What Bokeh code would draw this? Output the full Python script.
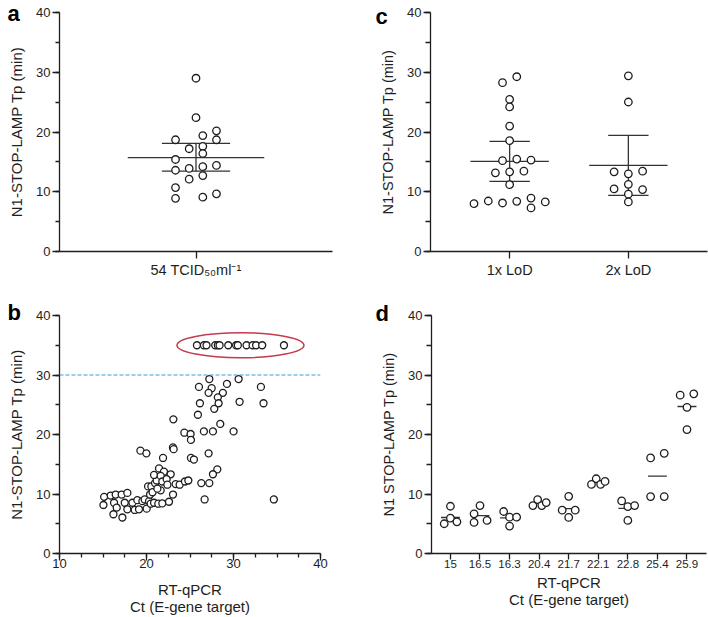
import numpy as np
from bokeh.plotting import figure
from bokeh.models import Range1d, FixedTicker, SingleIntervalTicker, Span
from bokeh.layouts import row, column
from bokeh.embed import file_html
from bokeh.resources import INLINE

FONT = "Liberation Sans"
INK = "#1e1e1e"

# ---------------- data ----------------
# panel a
a_category = "54 TCID\u2085\u2080ml\u207b\u00b9"
a_tp = [29.0, 22.4, 18.7, 19.4, 20.2, 18.7, 17.2, 17.6, 16.4, 15.4,
        13.6, 13.9, 14.2, 14.4, 12.1, 12.7, 10.7, 8.9, 9.1, 9.65]
a_jitter = [0, 0, -0.15, 0.05, 0.15, 0.15, -0.05, 0.05, 0.05, -0.15,
            -0.15, -0.05, 0.05, 0.15, -0.05, 0.05, -0.15, -0.15, 0.05, 0.15]
a_mean = 15.7
a_ci_low, a_ci_high = 13.45, 18.1

# panel c
c_categories = ["1x LoD", "2x LoD"]
c_tp_1x = [28.26, 29.25, 25.46, 24.2, 21.0, 18.55, 15.2, 15.47, 15.3, 13.33,
           13.17, 13.44, 11.19, 8.01, 8.45, 8.12, 8.4, 8.94, 7.3, 8.29]
c_jitter_1x = [-0.06, 0.06, 0, 0, 0, 0, -0.06, 0.06, 0.18, 0,
               -0.12, 0.12, 0, -0.30, -0.18, -0.06, 0.06, 0.18, 0.18, 0.30]
c_tp_2x = [29.41, 25.02, 13.33, 13.0, 13.44, 11.25, 10.48, 10.37, 9.6, 8.29]
c_jitter_2x = [0, 0, -0.12, 0, 0.12, 0, -0.12, 0.12, 0, 0]
c_mean = [15.09, 14.43]
c_ci_low = [11.74, 9.38]
c_ci_high = [18.44, 19.42]

# panel b
b_ct_nd = [25.8, 26.6, 26.9, 27.9, 28.2, 28.4, 29.4, 30.3, 30.5, 31.5, 32.2, 32.6, 33.3, 35.8]
b_tp_nd = [35] * len(b_ct_nd)
b_threshold = 30
b_ct = [27.22, 30.59, 26.03, 27.49, 29.25, 27.14, 28.78, 28.2, 33.15, 30.7,
        33.45, 26.14, 28.29, 27.79, 25.91, 23.09, 28.48, 26.6, 27.64, 30.01,
        24.35, 25.07, 25.11, 19.3, 19.99, 23.04, 23.12, 21.9, 25.11, 25.45,
        27.14, 28.14, 27.64, 26.3, 27.22, 26.68, 34.64,
        15.13, 15.05, 15.89, 16.46, 17.15, 17.8, 16.27, 16.58, 16.2, 17.23,
        17.5, 17.8, 18.38, 18.65, 18.95, 19.14, 19.53, 20.02, 19.79, 20.29,
        20.48, 20.87, 21.36, 21.82, 22.59, 23.05, 20.41, 20.18, 20.56, 20.98,
        21.17, 20.87, 21.44, 22.01, 22.78, 21.63, 21.82, 22.32, 22.4, 21.63,
        23.35, 23.81, 24.42, 24.81, 20.7, 21.25]
b_tp = [29.32, 29.32, 28.0, 27.78, 28.5, 27.0, 27.0, 26.24, 28.0, 25.5,
        25.25, 25.25, 25.25, 24.31, 23.32, 22.55, 21.78, 20.52, 20.52, 20.52,
        20.3, 20.08, 19.09, 17.28, 16.83, 17.82, 17.54, 16.06, 16.06, 15.79,
        16.83, 14.14, 13.32, 11.83, 11.83, 9.08, 9.08,
        9.52, 8.15, 9.74, 9.91, 9.91, 10.18, 8.53, 7.7, 6.6, 6.05,
        8.53, 7.43, 8.53, 7.32, 8.97, 7.43, 8.8, 7.54, 9.08, 8.8,
        8.37, 8.53, 8.37, 8.42, 8.7, 9.91, 9.91, 11.28, 11.28, 11.83,
        12.27, 13.2, 14.3, 13.76, 13.31, 13.04, 12.1, 12.49, 11.56, 10.62,
        11.67, 11.56, 12.1, 12.27, 10.3, 10.9]

# panel d
d_categories = ["15", "16.5", "16.3", "20.4", "21.7", "22.1", "22.8", "25.4", "25.9"]
d_tp = [
    [7.94, 5.0, 5.94, 5.33],
    [8.06, 6.67, 5.22, 5.56],
    [7.06, 4.61, 6.11, 6.11],
    [8.06, 9.06, 8.06, 8.56],
    [9.61, 7.28, 7.28, 6.06],
    [12.56, 11.61, 11.61, 12.11],
    [8.83, 7.89, 8.06, 5.56],
    [16.06, 16.83, 9.56, 9.56],
    [26.61, 26.83, 24.56, 20.83],
]
d_jitter = [
    [0, -0.21, 0, 0.22],
    [0, -0.2, -0.2, 0.24],
    [-0.2, 0, 0, 0.24],
    [-0.21, -0.05, 0.09, 0.24],
    [0, -0.22, 0.22, 0],
    [-0.07, -0.23, 0.08, 0.23],
    [-0.21, 0, 0.23, 0],
    [-0.23, 0.23, -0.23, 0.23],
    [-0.23, 0.23, 0, 0],
]


# ---------------- helpers ----------------
def make_fig(letter, width, height, xr, yr, bl, br, bt, bb, offset, standoff):
    p = figure(width=width, height=height, x_range=xr, y_range=yr,
               min_border_left=bl, min_border_right=br,
               min_border_top=bt, min_border_bottom=bb,
               output_backend="svg", toolbar_location=None)
    p.grid.visible = False
    p.outline_line_color = None
    # panel letter as the figure title, pulled over the left border
    p.title.text = letter
    p.title.align = "left"
    p.title.text_font = FONT
    p.title.text_font_size = "22px"
    p.title.text_font_style = "bold"
    p.title.text_color = "black"
    p.title.offset = offset
    try:
        p.title.standoff = standoff
    except Exception:
        p.title.standoff = 0
    for ax in p.axis:
        ax.axis_line_color = INK
        ax.axis_line_width = 1.3
        ax.major_tick_line_color = INK
        ax.major_tick_line_width = 1.3
        ax.minor_tick_line_color = INK
        ax.minor_tick_line_width = 1.3
        ax.major_tick_in = 0
        ax.major_tick_out = 7
        ax.minor_tick_in = 0
        ax.minor_tick_out = 4
        ax.major_label_text_font = FONT
        ax.major_label_text_color = INK
        ax.major_label_text_font_size = "13px"
        ax.axis_label_text_font = FONT
        ax.axis_label_text_font_style = "normal"
        ax.axis_label_text_font_size = "15px"
        ax.axis_label_text_color = INK
        ax.axis_label_text_line_height = 1.0
    p.yaxis.ticker = SingleIntervalTicker(interval=10, num_minor_ticks=2)
    p.yaxis.major_label_standoff = 2
    p.yaxis.axis_label_standoff = 8
    p.xaxis.major_label_standoff = 3
    return p


def dots(p, xs, ys, size=7.5):
    p.scatter(xs, ys, size=size, marker="circle", fill_color="white",
              line_color=INK, line_width=1.3)


# ---------------- panel a ----------------
pa = make_fig("a", 368, 298, Range1d(-1, 1), Range1d(0, 40), 59, 36, 12, 47, -52, -27)
pa.yaxis.axis_label = "N1-STOP-LAMP Tp (min)"
pa.xaxis.ticker = FixedTicker(ticks=[0], minor_ticks=[])
pa.xaxis.major_label_overrides = {0: a_category}
pa.xaxis.major_label_text_font_size = "14.5px"
pa.segment([-0.5, -0.25, -0.25, 0], [a_mean, a_ci_low, a_ci_high, a_ci_low],
           [0.5, 0.25, 0.25, 0], [a_mean, a_ci_low, a_ci_high, a_ci_high],
           line_color="#333333", line_width=1.3)
dots(pa, a_jitter, a_tp)

# ---------------- panel c ----------------
pc = make_fig("c", 340, 298, Range1d(1 / 3, 8 / 3), Range1d(0, 40), 62, 1, 9, 46, -55, -33)
pc.yaxis.axis_label = "N1-STOP-LAMP Tp (min)"
pc.yaxis.axis_label_text_font_size = "14.5px"
pc.yaxis.minor_tick_out = 5
pc.xaxis.ticker = FixedTicker(ticks=[1, 2], minor_ticks=[])
pc.xaxis.major_label_overrides = {1: c_categories[0], 2: c_categories[1]}
pc.xaxis.major_label_text_font_size = "14.5px"
cx = [1, 2]
pc.segment([x - 0.33 for x in cx], c_mean, [x + 0.33 for x in cx], c_mean,
           line_color="#333333", line_width=1.3)
pc.segment([x - 0.17 for x in cx], c_ci_low, [x + 0.17 for x in cx], c_ci_low,
           line_color="#333333", line_width=1.3)
pc.segment([x - 0.17 for x in cx], c_ci_high, [x + 0.17 for x in cx], c_ci_high,
           line_color="#333333", line_width=1.3)
pc.segment(cx, c_ci_low, cx, c_ci_high, line_color="#333333", line_width=1.3)
dots(pc, [1 + j for j in c_jitter_1x], c_tp_1x)
dots(pc, [2 + j for j in c_jitter_2x], c_tp_2x)

# ---------------- panel b ----------------
pb = make_fig("b", 368, 319, Range1d(10, 40), Range1d(0, 40), 59, 48, 15, 62, -52, -19)
pb.yaxis.axis_label = "N1-STOP-LAMP Tp (min)"
pb.xaxis.axis_label = "RT-qPCR\nCt (E-gene target)"
pb.xaxis.ticker = SingleIntervalTicker(interval=10, num_minor_ticks=4)
pb.xaxis.major_label_standoff = -2
pb.xaxis.axis_label_standoff = 10
pb.add_layout(Span(location=b_threshold, dimension="width", line_color="#3a9bd8",
                   line_dash="4 2", line_width=1.2))
nd_lo, nd_hi = min(b_ct_nd), max(b_ct_nd)
pb.ellipse(x=[(nd_lo + nd_hi) / 2], y=[b_tp_nd[0]], width=[nd_hi - nd_lo + 4.6],
           height=[4.2], fill_color=None, line_color="#c53a4d", line_width=1.5)
dots(pb, b_ct, b_tp, size=7)
dots(pb, b_ct_nd, b_tp_nd, size=7)

# ---------------- panel d ----------------
pd = make_fig("d", 340, 319, Range1d(0.36, 9.66), Range1d(0, 40), 63, 2, 17, 62, -56, -20)
pd.yaxis.axis_label = "N1 STOP-LAMP Tp (min)"
pd.yaxis.axis_label_text_font_size = "14.5px"
pd.yaxis.minor_tick_out = 5
pd.xaxis.axis_label = "RT-qPCR\nCt (E-gene target)"
pd.xaxis.axis_label_standoff = 3
dx = list(range(1, len(d_categories) + 1))
pd.xaxis.ticker = FixedTicker(ticks=dx, minor_ticks=[])
pd.xaxis.major_label_overrides = {i: c for i, c in zip(dx, d_categories)}
pd.xaxis.major_label_text_font_size = "11.5px"
pd.xaxis.major_tick_out = 6
pd.xaxis.major_label_standoff = 0
d_means = [float(np.mean(v)) for v in d_tp]
pd.segment([x - 0.32 for x in dx], d_means, [x + 0.32 for x in dx], d_means,
           line_color="#333333", line_width=1.3)
xs, ys = [], []
for x, vals, jit in zip(dx, d_tp, d_jitter):
    for v, j in zip(vals, jit):
        xs.append(x + j)
        ys.append(v)
dots(pd, xs, ys, size=7.5)

layout = column(row(pa, pc), row(pb, pd))
open("out.html", "w").write(file_html(layout, INLINE))
